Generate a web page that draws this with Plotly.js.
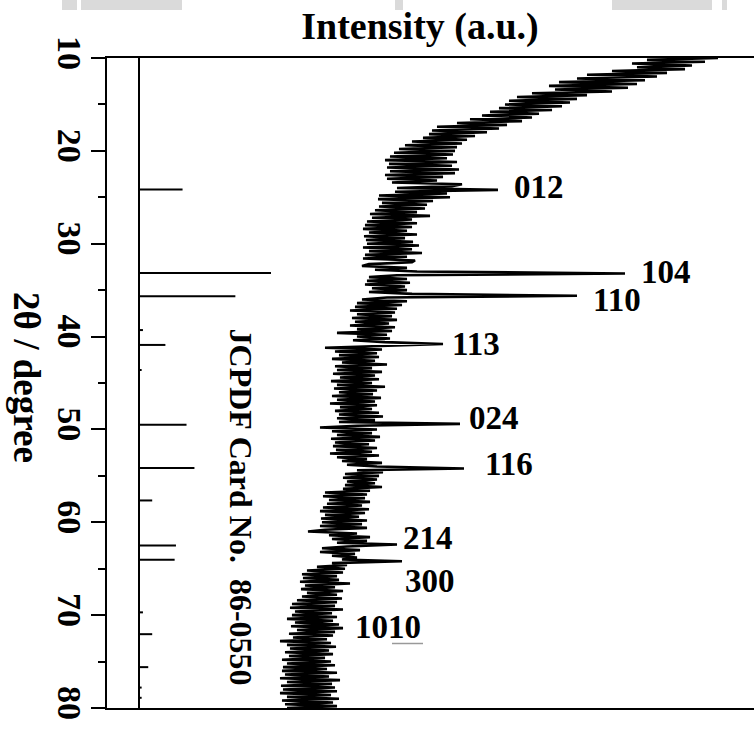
<!DOCTYPE html>
<html><head><meta charset="utf-8">
<script src="https://cdn.plot.ly/plotly-3.0.1.min.js"></script>
<style>html,body{margin:0;padding:0;background:#fff}#chart{width:754px;height:729px}</style>
</head><body><div id="chart"></div>
<script>
// 2θ scan positions (degree)
const twoTheta = [
10,10.2,10.4,10.6,10.8,11,11.2,11.4,11.6,11.8,
12,12.2,12.4,12.6,12.8,13,13.2,13.4,13.6,13.8,
14,14.2,14.4,14.6,14.8,15,15.2,15.4,15.6,15.8,
16,16.2,16.4,16.6,16.8,17,17.2,17.4,17.6,17.8,
18,18.2,18.4,18.6,18.8,19,19.2,19.4,19.6,19.8,
20,20.2,20.4,20.6,20.8,21,21.2,21.4,21.6,21.8,
22,22.2,22.4,22.6,22.8,23,23.2,23.4,23.6,23.8,
24,24.2,24.4,24.6,24.8,25,25.2,25.4,25.6,25.8,
26,26.2,26.4,26.6,26.8,27,27.2,27.4,27.6,27.8,
28,28.2,28.4,28.6,28.8,29,29.2,29.4,29.6,29.8,
30,30.2,30.4,30.6,30.8,31,31.2,31.4,31.6,31.8,
32,32.2,32.4,32.6,32.8,33,33.2,33.4,33.6,33.8,
34,34.2,34.4,34.6,34.8,35,35.2,35.4,35.6,35.8,
36,36.2,36.4,36.6,36.8,37,37.2,37.4,37.6,37.8,
38,38.2,38.4,38.6,38.8,39,39.2,39.4,39.6,39.8,
40,40.2,40.4,40.6,40.8,41,41.2,41.4,41.6,41.8,
42,42.2,42.4,42.6,42.8,43,43.2,43.4,43.6,43.8,
44,44.2,44.4,44.6,44.8,45,45.2,45.4,45.6,45.8,
46,46.2,46.4,46.6,46.8,47,47.2,47.4,47.6,47.8,
48,48.2,48.4,48.6,48.8,49,49.2,49.4,49.6,49.8,
50,50.2,50.4,50.6,50.8,51,51.2,51.4,51.6,51.8,
52,52.2,52.4,52.6,52.8,53,53.2,53.4,53.6,53.8,
54,54.2,54.4,54.6,54.8,55,55.2,55.4,55.6,55.8,
56,56.2,56.4,56.6,56.8,57,57.2,57.4,57.6,57.8,
58,58.2,58.4,58.6,58.8,59,59.2,59.4,59.6,59.8,
60,60.2,60.4,60.6,60.8,61,61.2,61.4,61.6,61.8,
62,62.2,62.4,62.6,62.8,63,63.2,63.4,63.6,63.8,
64,64.2,64.4,64.6,64.8,65,65.2,65.4,65.6,65.8,
66,66.2,66.4,66.6,66.8,67,67.2,67.4,67.6,67.8,
68,68.2,68.4,68.6,68.8,69,69.2,69.4,69.6,69.8,
70,70.2,70.4,70.6,70.8,71,71.2,71.4,71.6,71.8,
72,72.2,72.4,72.6,72.8,73,73.2,73.4,73.6,73.8,
74,74.2,74.4,74.6,74.8,75,75.2,75.4,75.6,75.8,
76,76.2,76.4,76.6,76.8,77,77.2,77.4,77.6,77.8,
78,78.2,78.4,78.6,78.8,79,79.2,79.4,79.6,79.8,
80];
// measured intensity (a.u.)
const intensity = [
611,540,598,525,585,530,578,505,560,480,
550,470,538,452,530,442,521,448,505,425,
480,410,470,402,463,398,455,392,445,383,
432,375,425,363,415,350,400,330,392,325,
380,322,368,316,360,305,355,298,350,292,
348,287,346,283,340,278,350,282,345,280,
352,283,348,278,336,280,330,285,355,345,
290,391,288,340,272,343,271,326,275,320,
272,318,268,310,263,323,265,305,260,310,
258,305,256,300,262,310,257,298,259,306,
260,312,256,305,262,315,258,300,256,308,
305,262,255,300,268,310,518,290,262,300,
260,303,258,298,265,300,262,305,470,280,
255,300,250,295,248,290,243,288,250,285,
245,290,248,282,243,288,250,285,230,280,
250,283,246,278,336,262,218,275,228,270,
232,272,225,268,235,280,228,265,230,275,
226,268,233,272,224,265,230,278,227,270,
232,266,225,274,230,268,223,270,233,265,
228,272,232,276,230,268,232,353,250,213,
270,225,265,230,273,224,268,228,262,226,
270,229,265,223,272,230,260,235,275,240,
270,357,250,276,238,272,236,270,240,268,
238,275,236,263,218,260,216,258,222,263,
220,255,216,262,213,258,218,252,214,260,
215,255,213,260,218,201,250,222,263,225,
260,230,290,240,215,253,213,248,225,250,
235,295,225,240,210,238,200,236,195,230,
196,232,193,243,198,228,194,236,200,230,
195,235,190,230,185,228,183,236,188,225,
185,230,180,226,188,232,184,236,190,228,
182,226,186,220,173,224,180,229,183,222,
178,226,182,218,175,224,180,228,176,220,
175,230,178,222,173,233,180,225,174,228,
176,230,173,224,180,232,175,226,178,230,
180];
// JCPDF 86-0550 reference pattern
const refAngles = [24.17, 33.15, 35.67, 39.3, 40.9, 43.6, 49.5, 54.16, 57.65, 62.5, 64.04, 69.7, 72.05, 75.6, 77.8, 78.9];
const refIntensity = [33, 100, 73, 3, 20, 2, 36, 42, 10, 28, 27, 3, 10, 7, 2, 2];
// peak labels
const peakLabels = ['012','104','110','113','024','116','214','300','1010'];
const yTickVals = [10, 20, 30, 40, 50, 60, 70, 80];

const serif = 'Liberation Serif, Times New Roman, serif';
const stickX = [], stickY = [];
refAngles.forEach((a, i) => { stickX.push(0, refIntensity[i], null); stickY.push(a, a, null); });

const traces = [
  {x: stickX, y: stickY, xaxis: 'x', yaxis: 'y', mode: 'lines', type: 'scatter',
   line: {color: '#000', width: 2}, hoverinfo: 'skip', showlegend: false},
  {x: intensity, y: twoTheta, xaxis: 'x2', yaxis: 'y', mode: 'lines', type: 'scatter',
   line: {color: '#000', width: 2.6}, showlegend: false}
];

// label anchor positions (intensity a.u., 2θ)
const labelPos = [[432,23.85],[558.5,33.06],[510,36.03],[368.5,40.76],[387,48.74],[401.5,53.7],[320.5,61.72],[323,66.36],[280.5,71.31]];
const annotations = peakLabels.map((t, i) => ({
  text: t, x: labelPos[i][0], y: labelPos[i][1], xref: 'x2', yref: 'y',
  showarrow: false, xanchor: 'center', yanchor: 'middle',
  font: {family: serif, size: 33, color: '#000', weight: 'bold'}
}));
annotations.push({
  text: '2θ / degree', xref: 'paper', yref: 'paper', x: -0.1236, y: 0.509,
  textangle: 90, showarrow: false, xanchor: 'center', yanchor: 'middle',
  font: {family: serif, size: 37, color: '#000', weight: 'bold'}
});
annotations.push({
  text: 'JCPDF Card No.&nbsp;&nbsp;86-0550', xref: 'paper', yref: 'paper', x: 0.207, y: 0.3085,
  textangle: 90, showarrow: false, xanchor: 'center', yanchor: 'middle',
  font: {family: serif, size: 32, color: '#000', weight: 'bold'}
});

const grayBoxes = [[62,77],[81,182],[395,403],[612,712],[722,727]];
const shapes = [
  {type: 'line', xref: 'x', yref: 'paper', x0: 0, x1: 0, y0: 0, y1: 1, line: {color: '#000', width: 2}},
  {type: 'line', xref: 'paper', yref: 'paper', x0: (392-107)/647, x1: (423-107)/647, y0: 1-(643.5-58)/650, y1: 1-(643.5-58)/650, line: {color: '#999', width: 1.5}}
];
grayBoxes.forEach(b => shapes.push({type: 'rect', xref: 'paper', yref: 'paper',
  x0: (b[0]-107)/647, x1: (b[1]-107)/647, y0: 1+(58-10)/650, y1: 1+58/650,
  fillcolor: '#dadada', line: {width: 0}, layer: 'below'}));

const layout = {
  width: 754, height: 729,
  margin: {l: 107, r: 0, t: 58, b: 21, pad: 0},
  paper_bgcolor: '#fff', plot_bgcolor: '#fff',
  title: {text: 'Intensity (a.u.)', xref: 'container', yref: 'container', x: 420/754, y: 1-26/729,
          xanchor: 'center', yanchor: 'middle', font: {family: serif, size: 38, color: '#000', weight: 'bold'}},
  xaxis: {range: [-24.24, 465.9], showgrid: false, zeroline: false, showticklabels: false, ticks: '',
          showline: true, mirror: true, linecolor: '#000', linewidth: 2, fixedrange: true},
  xaxis2: {overlaying: 'x', range: [0, 647], visible: false, fixedrange: true},
  yaxis: {range: [80, 10], showgrid: false, zeroline: false, showline: true, linecolor: '#000', linewidth: 2,
          tickvals: yTickVals, ticks: 'outside', ticklen: 14, tickwidth: 2, tickcolor: '#000',
          tickangle: 90, ticklabelstandoff: -8,
          tickfont: {family: serif, size: 34, color: '#000', weight: 'bold'},
          minor: {dtick: 5, tick0: 10, ticks: 'outside', ticklen: 7, tickwidth: 2, tickcolor: '#000', showgrid: false},
          fixedrange: true},
  annotations: annotations,
  shapes: shapes,
  showlegend: false
};
Plotly.newPlot('chart', traces, layout, {displayModeBar: false, staticPlot: true});
</script></body></html>
